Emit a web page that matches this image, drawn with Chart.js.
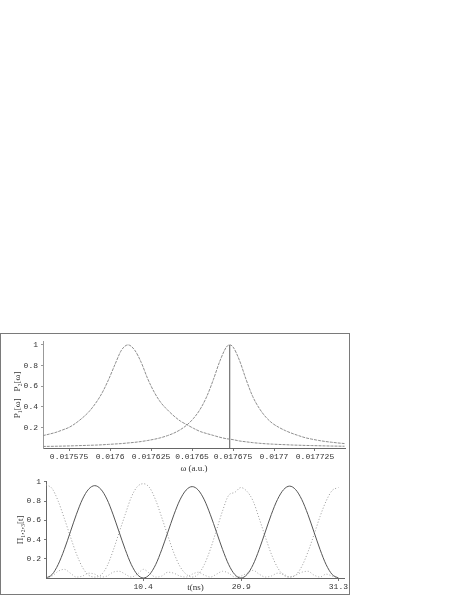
<!DOCTYPE html>
<html>
<head>
<meta charset="utf-8">
<script src="https://cdn.jsdelivr.net/npm/chart.js@4/dist/chart.umd.min.js"></script>
<style>
  body { margin: 0; background: #fff; }
  #frame { position: absolute; left: 0; top: 333px; width: 350px; height: 262px; box-sizing: border-box; border: 1px solid #7a7a7a; }
  canvas { position: absolute; }
  #top { left: 1px; top: 334px; }
  #bottom { left: 1px; top: 474px; }
</style>
</head>
<body>
<div id="frame"></div>
<canvas id="top" width="348" height="140"></canvas>
<canvas id="bottom" width="348" height="119"></canvas>
<script>
// data: spectrum panel
const omega = [0.017559,0.017563,0.017567,0.017571,0.017575,0.017579,0.017583,0.017587,0.017591,0.017595,
  0.017599,0.017603,0.017607,0.017611,0.017615,0.017619,0.017623,0.017627,0.017631,0.017635,
  0.017639,0.017643,0.017647,0.017651,0.017655,0.017659,0.017663,0.017667,0.017671,0.017673,
  0.017675,0.017679,0.017683,0.017687,0.017691,0.017695,0.017699,0.017703,0.017707,0.017711,
  0.017715,0.017719,0.017723,0.017727,0.017731,0.017735,0.017739,0.017743];
const pLow = [0.12,0.135,0.152,0.175,0.2,0.24,0.29,0.35,0.43,0.53,
  0.66,0.81,0.95,1.0,0.95,0.83,0.67,0.54,0.44,0.37,
  0.31,0.26,0.225,0.19,0.16,0.14,0.122,0.104,0.09,0.086,
  0.081,0.068,0.06,0.052,0.046,0.041,0.0375,0.0345,0.032,0.029,
  0.027,0.025,0.0235,0.022,0.0205,0.019,0.018,0.017];
const pHigh = [0.015,0.016,0.017,0.0185,0.02,0.022,0.024,0.026,0.028,0.031,
  0.035,0.039,0.043,0.049,0.055,0.063,0.073,0.085,0.1,0.12,
  0.145,0.179,0.225,0.289,0.377,0.5,0.663,0.844,0.98,1.0,
  0.98,0.847,0.663,0.5,0.385,0.3,0.24,0.2,0.168,0.142,
  0.12,0.1,0.086,0.074,0.064,0.056,0.049,0.043];
const peakOmega = 0.017673;
const omegaTicks = [0.017575,0.0176,0.017625,0.01765,0.017675,0.0177,0.017725];
const omegaTickLabels = ['0.017575','0.0176','0.017625','0.01765','0.017675','0.0177','0.017725'];
const probTicks = [0.2,0.4,0.6,0.8,1];
const probTickLabels = ['0.2','0.4','0.6','0.8','1'];

// data: time panel
const tNs = [0,0.65,1.3,1.96,2.61,3.26,3.91,4.56,5.22,5.87,
  6.52,7.17,7.82,8.48,9.13,9.78,10.43,11.08,11.74,12.39,
  13.04,13.69,14.34,15.0,15.65,16.3,16.95,17.6,18.26,18.91,
  19.56,20.21,20.86,21.52,22.17,22.82,23.47,24.12,24.78,25.43,
  26.08,26.73,27.38,28.04,28.69,29.34,29.99,30.64,31.3];
const popMid = [0,0.036,0.14,0.297,0.48,0.663,0.82,0.923,0.96,0.923,
  0.82,0.663,0.48,0.297,0.14,0.036,0,0.036,0.139,0.295,
  0.475,0.657,0.812,0.914,0.95,0.914,0.812,0.657,0.475,0.295,
  0.139,0.036,0,0.036,0.139,0.296,0.478,0.66,0.816,0.918,
  0.955,0.918,0.816,0.66,0.478,0.296,0.139,0.036,0];
const popInit = [0.97,0.93,0.8,0.62,0.43,0.25,0.11,0.03,0.01,0.03,
  0.12,0.28,0.47,0.66,0.84,0.95,0.98,0.94,0.81,0.63,
  0.44,0.26,0.12,0.04,0.01,0.04,0.14,0.3,0.5,0.7,
  0.86,0.89,0.94,0.9,0.8,0.62,0.43,0.25,0.11,0.03,
  0.01,0.03,0.12,0.27,0.45,0.64,0.8,0.91,0.94];
const popTop = [0,0.02,0.07,0.09,0.05,0.01,0.02,0.05,0.04,0.01,
  0.02,0.06,0.07,0.04,0.01,0.04,0.09,0.05,0.01,0.02,
  0.06,0.05,0.02,0.01,0.04,0.06,0.03,0.01,0.04,0.07,
  0.05,0.01,0.02,0.05,0.08,0.04,0.01,0.02,0.05,0.04,
  0.01,0.03,0.06,0.07,0.03,0.01,0.04,0.02,0];
const timeTicks = [10.4,20.9,31.3];
const timeTickLabels = ['10.4','20.9','31.3'];

const tickFont = {family: 'Liberation Mono', size: 8};
const titleFont = {family: 'Liberation Serif', size: 9};
const ink = '#333';

function pts(xs, ys){
  return xs.map((x,i)=>({x, y: ys[i]}));
}

function fixTicks(values){
  return scale => { scale.ticks = values.map(v=>({value: v})); };
}

function labelFrom(values, labels){
  return v => { const i = values.findIndex(t=>Math.abs(t-v)<1e-9); return i<0 ? '' : labels[i]; };
}

new Chart('top', {
  type: 'line',
  data: {
    datasets: [
      {data: pts(omega, pLow), borderColor: '#8e8e8e', borderWidth: 1, borderDash: [3,1], pointRadius: 0, cubicInterpolationMode: 'monotone'},
      {data: pts(omega, pHigh), borderColor: '#8e8e8e', borderWidth: 1, borderDash: [3,1], pointRadius: 0, cubicInterpolationMode: 'monotone'},
      {data: [{x: peakOmega, y: 0}, {x: peakOmega, y: 1}], borderColor: '#555', borderWidth: 1, pointRadius: 0}
    ]
  },
  options: {
    animation: false,
    responsive: false,
    layout: {padding: {top: 7, right: 4, left: 11, bottom: 0}},
    plugins: {legend: {display: false}, tooltip: {enabled: false}},
    scales: {
      x: {
        type: 'linear', min: 0.0175591, max: 0.0177433,
        afterBuildTicks: fixTicks(omegaTicks),
        afterFit: s => { s.height = 26; },
        grid: {drawOnChartArea: false, tickLength: 3, color: '#777'},
        border: {color: '#666'},
        ticks: {font: tickFont, color: ink, padding: 1, maxRotation: 0, autoSkip: false, callback: labelFrom(omegaTicks, omegaTickLabels)},
        title: {display: true, text: 'ω (a.u.)', font: titleFont, color: ink, padding: {top: 0, bottom: 0}}
      },
      y: {
        min: 0, max: 1.03,
        afterBuildTicks: fixTicks(probTicks),
        afterFit: s => { s.width = 31; },
        grid: {drawOnChartArea: false, tickLength: 2, color: '#999'},
        border: {color: '#999', dash: [1,2]},
        ticks: {font: tickFont, color: ink, padding: 3, callback: labelFrom(probTicks, probTickLabels)},
        title: {display: true, text: 'P₁[ω]   P₂[ω]', font: titleFont, color: ink, padding: {top: 0, bottom: 0}}
      }
    }
  }
});

new Chart('bottom', {
  type: 'line',
  data: {
    datasets: [
      {data: pts(tNs, popMid), borderColor: '#555', borderWidth: 1, pointRadius: 0, cubicInterpolationMode: 'monotone'},
      {data: pts(tNs, popInit), borderColor: '#9a9a9a', borderWidth: 1, borderDash: [1,2], pointRadius: 0, cubicInterpolationMode: 'monotone'},
      {data: pts(tNs, popTop), borderColor: '#aaa', borderWidth: 1, borderDash: [1,2], pointRadius: 0, cubicInterpolationMode: 'monotone'}
    ]
  },
  options: {
    animation: false,
    responsive: false,
    layout: {padding: {top: 3, right: 1, left: 14, bottom: 0}},
    plugins: {legend: {display: false}, tooltip: {enabled: false}},
    scales: {
      x: {
        type: 'linear', min: 0, max: 32,
        afterBuildTicks: fixTicks(timeTicks),
        afterFit: s => { s.height = 15; },
        grid: {drawOnChartArea: false, tickLength: 3, color: '#777'},
        border: {color: '#666'},
        ticks: {font: tickFont, color: ink, padding: 1, maxRotation: 0, autoSkip: false, callback: labelFrom(timeTicks, timeTickLabels)},
        title: {display: true, text: 't(ns)', font: titleFont, color: ink, padding: {top: -6, bottom: 0}}
      },
      y: {
        min: 0, max: 1,
        afterBuildTicks: fixTicks(probTicks),
        afterFit: s => { s.width = 31; },
        grid: {drawOnChartArea: false, tickLength: 2, color: '#777'},
        border: {color: '#666'},
        ticks: {font: tickFont, color: ink, padding: 3, callback: labelFrom(probTicks, probTickLabels)},
        title: {display: true, text: 'Π₁,₂,₃[t]', font: titleFont, color: ink, padding: {top: 0, bottom: 0}}
      }
    }
  }
});
</script>
</body>
</html>
